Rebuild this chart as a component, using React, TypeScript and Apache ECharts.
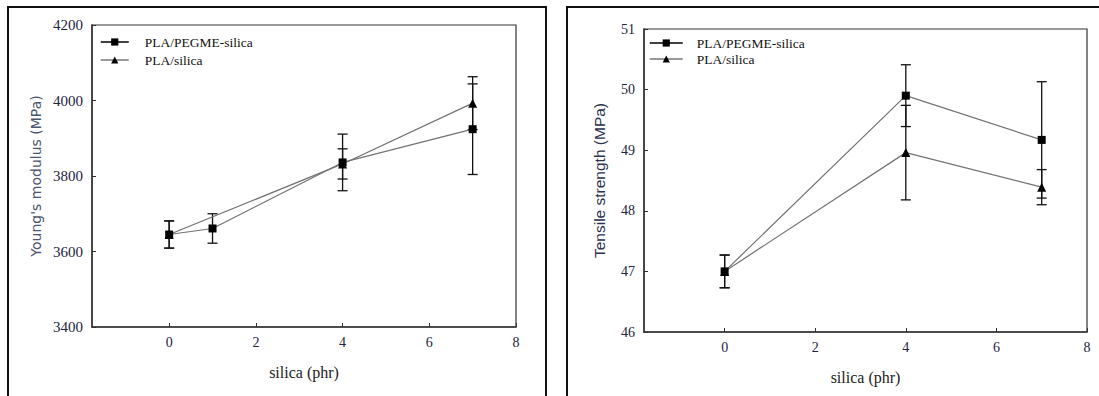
import React, { useEffect, useRef } from "react";
import * as echarts from "echarts";

// silica loading (phr)
const modulusPegmeX = [0, 1, 4, 7];
const modulusPegme = [3645, 3661, 3836, 3924];
const modulusPegmeErr = [36, 39, 75, 120];
const modulusSilicaX = [0, 4, 7];
const modulusSilica = [3645, 3832, 3993];
const modulusSilicaErr = [36, 40, 70];

const strengthPegmeX = [0, 4, 7];
const strengthPegme = [47.0, 49.9, 49.17];
const strengthPegmeErr = [0.27, 0.51, 0.96];
const strengthSilicaX = [0, 4, 7];
const strengthSilica = [47.0, 48.96, 48.39];
const strengthSilicaErr = [0.27, 0.78, 0.29];

const xTicks = [0, 2, 4, 6, 8];
const seriesNames = ["PLA/PEGME-silica", "PLA/silica"];

const serif = "Liberation Serif";
const labelColor = "#1e2340";

const pairs = (xs: number[], ys: number[]) => xs.map((x, i) => [x, ys[i]]);
const errRows = (xs: number[], ys: number[], es: number[]) =>
  xs.map((x, i) => [x, ys[i] - es[i], ys[i] + es[i]]);

const errorBarRender = (params: any, api: any) => {
  const x = api.value(0);
  const lo = api.coord([x, api.value(1)]);
  const hi = api.coord([x, api.value(2)]);
  const half = 5;
  const style = { stroke: "#111", lineWidth: 1.3 };
  return {
    type: "group",
    children: [
      { type: "line", shape: { x1: lo[0], y1: lo[1], x2: hi[0], y2: hi[1] }, style },
      { type: "line", shape: { x1: lo[0] - half, y1: lo[1], x2: lo[0] + half, y2: lo[1] }, style },
      { type: "line", shape: { x1: hi[0] - half, y1: hi[1], x2: hi[0] + half, y2: hi[1] }, style },
    ],
  };
};

const xAxisFor = (gridIndex: number, labelSize: number) => ({
  type: "value",
  gridIndex,
  min: -1.78,
  max: 8,
  name: "silica (phr)",
  nameLocation: "middle",
  nameGap: 37,
  nameTextStyle: { fontFamily: serif, fontSize: 16, color: "#222" },
  splitLine: { show: false },
  axisLine: { show: true, onZero: false, lineStyle: { color: "#333", width: 1.5 } },
  axisTick: { show: true, inside: true, length: 4, customValues: xTicks, lineStyle: { color: "#333" } },
  axisLabel: { customValues: xTicks, margin: 8, fontFamily: serif, fontSize: labelSize, color: labelColor },
});

const yAxisFor = (
  gridIndex: number, min: number, max: number, interval: number, labelSize: number,
  name: string, nameFont: string, nameSize: number, nameGap: number, nameColor: string,
) => ({
  type: "value",
  gridIndex,
  min,
  max,
  interval,
  name,
  nameLocation: "middle",
  nameGap,
  nameTextStyle: { fontFamily: nameFont, fontSize: nameSize, color: nameColor },
  splitLine: { show: false },
  axisLine: { show: true, onZero: false, lineStyle: { color: "#333", width: 1.5 } },
  axisTick: { show: true, inside: true, length: 4, lineStyle: { color: "#333" } },
  axisLabel: {
    margin: 9,
    fontFamily: serif,
    fontSize: labelSize,
    color: labelColor,
    formatter: (v: number) => String(v),
  },
});

const lineSeries = (name: string, idx: number, data: number[][], symbol: string, size: number) => ({
  type: "line",
  name,
  xAxisIndex: idx,
  yAxisIndex: idx,
  data,
  symbol,
  symbolSize: size,
  showAllSymbol: true,
  lineStyle: { color: "#727272", width: 1.2 },
  itemStyle: { color: "#000" },
  z: 3,
});

const errSeries = (idx: number, data: number[][]) => ({
  type: "custom",
  xAxisIndex: idx,
  yAxisIndex: idx,
  data,
  renderItem: errorBarRender,
  silent: true,
  z: 2,
});

const legendFor = (left: number, top: number, itemWidth: number, pad: number, gap: number) => ({
  orient: "vertical",
  left,
  top,
  itemWidth,
  itemHeight: 9,
  itemGap: gap,
  padding: 0,
  selectedMode: false,
  formatter: (name: string) => `{t|${name}}`,
  textStyle: {
    fontFamily: serif,
    fontSize: 13,
    color: "#111",
    rich: { t: { fontFamily: serif, fontSize: 13.5, color: "#111", lineHeight: 14, padding: [0, 0, 0, pad] } },
  },
  data: [
    { name: seriesNames[0], lineStyle: { color: "#000", width: 1.5 } },
    { name: seriesNames[1], lineStyle: { color: "#777", width: 1.5 } },
  ],
});

export default function App() {
  const ref = useRef<HTMLDivElement>(null);

  useEffect(() => {
    document.body.style.margin = "0";
    const chart = echarts.init(ref.current!, undefined, { renderer: "svg" });
    chart.setOption({
      animation: false,
      backgroundColor: "#fff",
      grid: [
        { left: 92, top: 25, width: 424, height: 302, show: true, borderColor: "#333", borderWidth: 1.2 },
        { left: 644, top: 29, width: 443, height: 303, show: true, borderColor: "#333", borderWidth: 1.2 },
      ],
      legend: [legendFor(100, 35, 28, 11, 4), legendFor(649, 36, 33, 9, 2)],
      xAxis: [xAxisFor(0, 14), xAxisFor(1, 14)],
      yAxis: [
        yAxisFor(0, 3400, 4200, 200, 15, "Young's modulus (MPa)", "DejaVu Sans", 14, 49, "#4a5570"),
        yAxisFor(1, 46, 51, 1, 14, "Tensile strength (MPa)", "Liberation Sans", 15.5, 37, "#2a3150"),
      ],
      graphic: [
        { type: "rect", shape: { x: 8, y: 7, width: 538, height: 420 }, style: { fill: "none", stroke: "#111", lineWidth: 2 }, silent: true },
        { type: "rect", shape: { x: 567, y: 7, width: 600, height: 420 }, style: { fill: "none", stroke: "#111", lineWidth: 2 }, silent: true },
      ],
      series: [
        errSeries(0, errRows(modulusPegmeX, modulusPegme, modulusPegmeErr)),
        errSeries(0, errRows(modulusSilicaX, modulusSilica, modulusSilicaErr)),
        lineSeries(seriesNames[0], 0, pairs(modulusPegmeX, modulusPegme), "rect", 8),
        lineSeries(seriesNames[1], 0, pairs(modulusSilicaX, modulusSilica), "triangle", 9),
        errSeries(1, errRows(strengthPegmeX, strengthPegme, strengthPegmeErr)),
        errSeries(1, errRows(strengthSilicaX, strengthSilica, strengthSilicaErr)),
        lineSeries(seriesNames[0], 1, pairs(strengthPegmeX, strengthPegme), "rect", 8),
        lineSeries(seriesNames[1], 1, pairs(strengthSilicaX, strengthSilica), "triangle", 9),
      ],
    });
    return () => chart.dispose();
  }, []);

  return <div ref={ref} style={{ width: 1099, height: 396 }} />;
}
